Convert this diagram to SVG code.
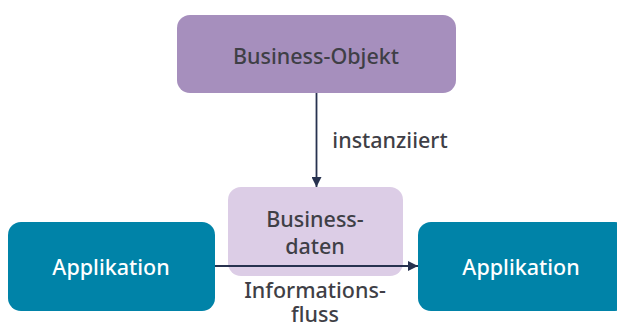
<svg xmlns="http://www.w3.org/2000/svg" width="617" height="327" viewBox="0 0 617 327">
<defs>
<style>
text{font-family:"Noto Sans","DejaVu Sans",sans-serif;font-size:21.5px;font-weight:500;text-anchor:middle;dominant-baseline:central}
.dark{fill:#3f3f46}
.light{fill:#ffffff}
.conn{stroke:#27324f;stroke-width:1.8;fill:none}
</style>
<marker id="ah" viewBox="0 0 10 10" refX="10" refY="5" markerWidth="11" markerHeight="10" orient="auto" markerUnits="userSpaceOnUse">
<path d="M0,0 L10,5 L0,10 z" fill="#27324f"/>
</marker>
</defs>
<rect width="617" height="327" fill="#ffffff"/>
<g id="business-objekt">
<rect x="177" y="15" width="279" height="78" rx="13" fill="#a68fbd"/>
<text class="dark" x="316" y="55">Business-Objekt</text>
</g>
<g id="businessdaten">
<rect x="228" y="187" width="175" height="89" rx="13" fill="#dccde6"/>
<text class="dark" x="315" y="218">Business-</text>
<text class="dark" x="315" y="245">daten</text>
</g>
<g id="applikation-links">
<rect x="8" y="222" width="207" height="89" rx="13" fill="#0083a8"/>
<text class="light" x="111" y="266">Applikation</text>
</g>
<g id="applikation-rechts">
<rect x="418" y="222" width="210" height="89" rx="13" fill="#0083a8"/>
<text class="light" x="521" y="266">Applikation</text>
</g>
<g id="connectors">
<line class="conn" x1="316.5" y1="93" x2="316.5" y2="187" marker-end="url(#ah)"/>
<text class="dark" x="390" y="139">instanziiert</text>
<line class="conn" x1="215" y1="266" x2="418" y2="266" marker-end="url(#ah)"/>
<text class="dark" x="315" y="289">Informations-</text>
<text class="dark" x="315" y="313">fluss</text>
</g>
</svg>
